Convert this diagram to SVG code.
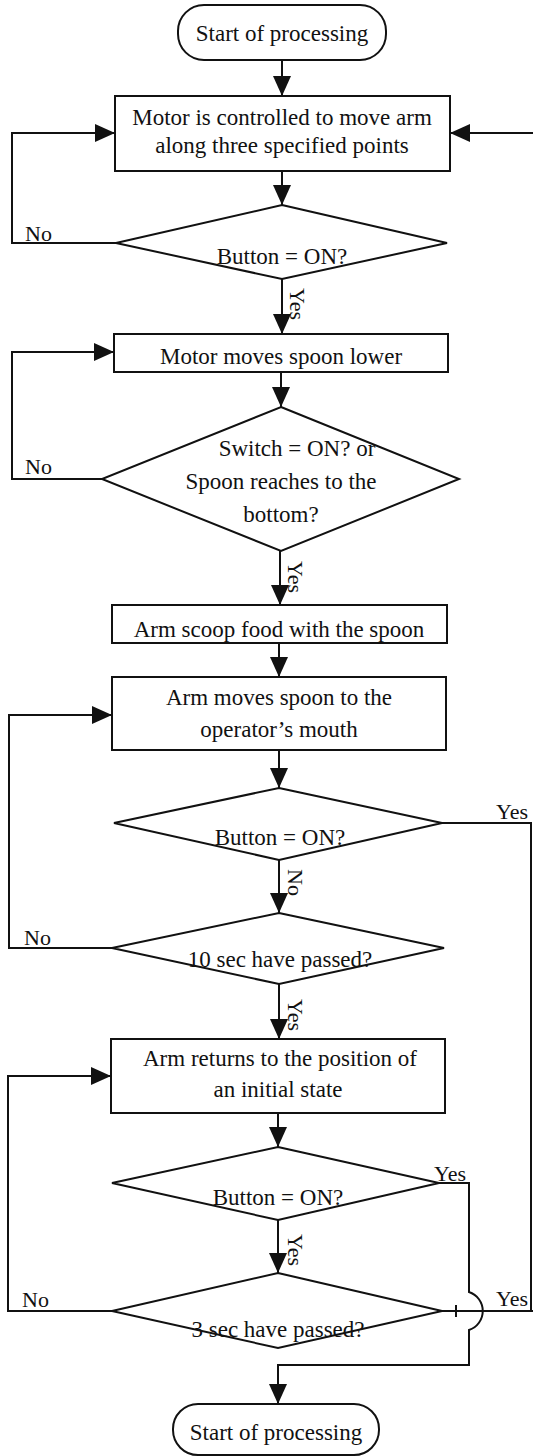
<svg xmlns="http://www.w3.org/2000/svg" width="533" height="1456" viewBox="0 0 533 1456">
<style>
.n{fill:#fff;stroke:#111;stroke-width:2}
.c{fill:none;stroke:#111;stroke-width:2}
.t{font-family:"Liberation Serif","Times New Roman",serif;font-size:23px;fill:#111;text-anchor:middle}
.l{font-family:"Liberation Serif","Times New Roman",serif;font-size:22px;fill:#111}
</style>
<defs>
<marker id="ah" markerUnits="userSpaceOnUse" markerWidth="20" markerHeight="18" refX="20" refY="9" orient="auto"><path d="M0,0 L20,9 L0,18 z" fill="#111"/></marker>
</defs>
<g id="connectors">
<path class="c" d="M282,60 V96" marker-end="url(#ah)"/>
<path class="c" d="M282,171 V205" marker-end="url(#ah)"/>
<path class="c" d="M116,243 H12 V133 H115" marker-end="url(#ah)"/>
<path class="c" d="M533,133 H450" marker-end="url(#ah)"/>
<path class="c" d="M282,279 V334" marker-end="url(#ah)"/>
<path class="c" d="M281,372 V407" marker-end="url(#ah)"/>
<path class="c" d="M102,479 H12 V352 H114" marker-end="url(#ah)"/>
<path class="c" d="M280,551 V605" marker-end="url(#ah)"/>
<path class="c" d="M279,643 V677" marker-end="url(#ah)"/>
<path class="c" d="M279,750 V788" marker-end="url(#ah)"/>
<path class="c" d="M442,823 H531 V1311"/>
<path class="c" d="M279,860 V913" marker-end="url(#ah)"/>
<path class="c" d="M112,948 H9 V715 H112" marker-end="url(#ah)"/>
<path class="c" d="M279,984 V1039" marker-end="url(#ah)"/>
<path class="c" d="M278,1113 V1147" marker-end="url(#ah)"/>
<path class="c" d="M439,1183 H469 V1292 A20,20 0 0 1 469,1330 V1365 H278 V1404" marker-end="url(#ah)"/>
<path class="c" d="M278,1220 V1273" marker-end="url(#ah)"/>
<path class="c" d="M112,1311 H8 V1076 H111" marker-end="url(#ah)"/>
<path class="c" d="M442,1311 H533"/>
<path class="c" d="M456,1305 V1317" stroke-width="1"/>
</g>
<g id="start"><rect class="n" x="178" y="5" width="208" height="55" rx="26"/><text class="t" x="282" y="41">Start of processing</text></g>
<g id="move-arm"><rect class="n" x="115" y="96" width="335" height="75"/><text class="t" x="282" y="125">Motor is controlled to move arm</text><text class="t" x="282" y="153">along three specified points</text></g>
<g id="button1"><polygon class="n" points="282,205 447,243 282,279 116,243"/><text class="t" x="282" y="264">Button = ON?</text></g>
<g id="lower"><rect class="n" x="114" y="334" width="334" height="38"/><text class="t" x="281" y="364">Motor moves spoon lower</text></g>
<g id="switch"><polygon class="n" points="281,407 459,479 281,551 102,479"/><text class="t" x="297" y="456">Switch = ON? or</text><text class="t" x="281" y="489">Spoon reaches to the</text><text class="t" x="281" y="522">bottom?</text></g>
<g id="scoop"><rect class="n" x="112" y="605" width="335" height="38"/><text class="t" x="279" y="637">Arm scoop food with the spoon</text></g>
<g id="to-mouth"><rect class="n" x="112" y="677" width="334" height="73"/><text class="t" x="279" y="705">Arm moves spoon to the</text><text class="t" x="279" y="737">operator’s mouth</text></g>
<g id="button2"><polygon class="n" points="279,788 442,823 279,860 114,823"/><text class="t" x="280" y="845">Button = ON?</text></g>
<g id="ten-sec"><polygon class="n" points="279,913 444,948 279,984 112,948"/><text class="t" x="280" y="967">10 sec have passed?</text></g>
<g id="return"><rect class="n" x="111" y="1039" width="334" height="74"/><text class="t" x="280" y="1066">Arm returns to the position of</text><text class="t" x="278" y="1097">an initial state</text></g>
<g id="button3"><polygon class="n" points="278,1147 439,1183 278,1220 112,1183"/><text class="t" x="278" y="1205">Button = ON?</text></g>
<g id="three-sec"><polygon class="n" points="278,1273 442,1311 278,1348 112,1311"/><text class="t" x="278" y="1337">3 sec have passed?</text></g>
<g id="end"><rect class="n" x="173" y="1404" width="206" height="51" rx="25"/><text class="t" x="276" y="1440">Start of processing</text></g>
<g id="labels">
<text class="l" x="25" y="241">No</text>
<text class="l" x="25" y="474">No</text>
<text class="l" x="24" y="945">No</text>
<text class="l" x="22" y="1307">No</text>
<text class="l" transform="translate(290,288) rotate(90)">Yes</text>
<text class="l" transform="translate(288,561) rotate(90)">Yes</text>
<text class="l" transform="translate(288,869) rotate(90)">No</text>
<text class="l" transform="translate(288,999) rotate(90)">Yes</text>
<text class="l" transform="translate(288,1234) rotate(90)">Yes</text>
<text class="l" x="496" y="819">Yes</text>
<text class="l" x="434" y="1181">Yes</text>
<text class="l" x="496" y="1306">Yes</text>
</g>
</svg>
